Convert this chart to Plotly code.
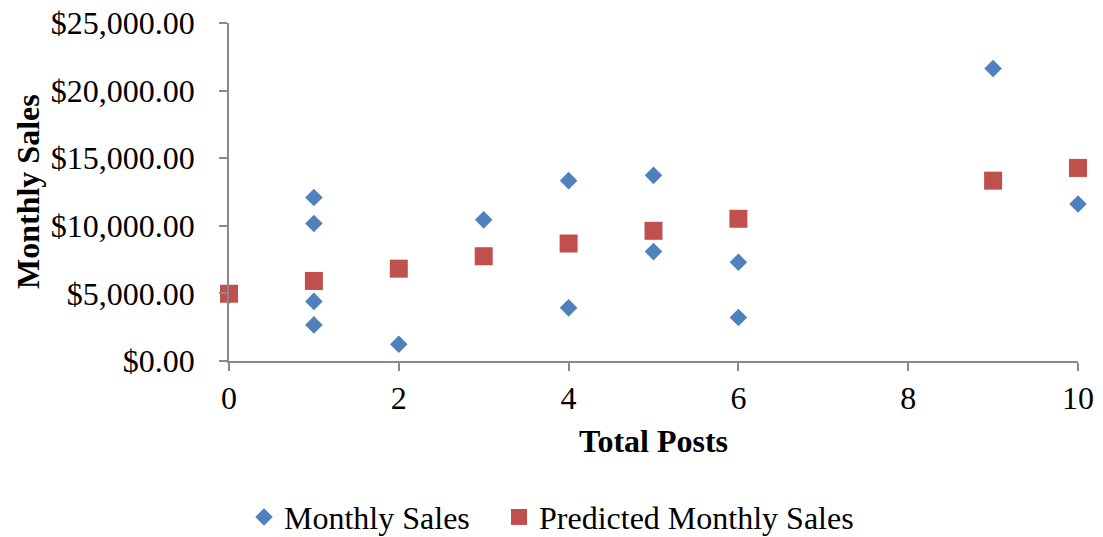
import plotly.graph_objects as go

# Observed monthly sales by number of posts
posts = [0, 1, 1, 1, 1, 2, 3, 4, 4, 5, 5, 6, 6, 9, 10]
monthly_sales = [4880, 12100, 10170, 4410, 2670, 1240, 10440, 13340, 3930,
                 13730, 8090, 7300, 3220, 21630, 11610]

# Regression predictions at each distinct post count
pred_posts = [0, 1, 2, 3, 4, 5, 6, 9, 10]
predicted_sales = [4975, 5920, 6830, 7750, 8690, 9630, 10520, 13340, 14280]

y_ticks = [0, 5000, 10000, 15000, 20000, 25000]
x_ticks = [0, 2, 4, 6, 8, 10]

FONT = "Liberation Serif"
AXIS_GREY = "#898989"
W, H = 1103, 537

fig = go.Figure()
fig.add_trace(go.Scatter(
    x=posts, y=monthly_sales, mode="markers", name="Monthly Sales",
    marker=dict(symbol="diamond", size=13.5, color="#4F81BD"),
    cliponaxis=False, legend="legend",
))
fig.add_trace(go.Scatter(
    x=pred_posts, y=predicted_sales, mode="markers",
    name="Predicted Monthly Sales",
    marker=dict(symbol="square", size=18, color="#C0504D"),
    cliponaxis=False, legend="legend2",
))

legend_common = dict(
    orientation="h", xref="container", yref="container",
    xanchor="left", y=0.037, yanchor="middle",
    font=dict(size=32), itemwidth=30, bgcolor="rgba(0,0,0,0)",
)

fig.update_layout(
    width=W, height=H,
    margin=dict(l=229, r=25, t=23, b=176, autoexpand=False),
    plot_bgcolor="white", paper_bgcolor="white",
    font=dict(family=FONT, size=32, color="black"),
    showlegend=True,
    legend=dict(x=244 / W, **legend_common),
    legend2=dict(x=499 / W, **legend_common),
    xaxis=dict(
        range=[0, 10], tickvals=x_ticks, ticktext=[str(v) for v in x_ticks],
        showgrid=False, zeroline=False, showline=True, automargin=False,
        linecolor=AXIS_GREY, linewidth=1.5,
        ticks="outside", ticklen=8, tickwidth=1.5, tickcolor=AXIS_GREY,
        ticklabelstandoff=0,
    ),
    yaxis=dict(
        range=[0, 25000], tickvals=y_ticks,
        ticktext=[f"${v:,.2f}" for v in y_ticks],
        showgrid=False, zeroline=False, showline=True, automargin=False,
        linecolor=AXIS_GREY, linewidth=1.5,
        ticks="outside", ticklen=8, tickwidth=1.5, tickcolor=AXIS_GREY,
        ticklabelstandoff=18,
    ),
    annotations=[
        dict(text="<b>Total Posts</b>", xref="paper", yref="paper",
             x=0.5, y=0, yshift=-80, xanchor="center", yanchor="middle",
             showarrow=False, font=dict(size=32)),
        dict(text="<b>Monthly Sales</b>", xref="paper", yref="paper",
             x=0, xshift=-201, y=0.5, xanchor="center", yanchor="middle",
             textangle=-90, showarrow=False, font=dict(size=32)),
    ],
)

fig.write_html("out.html")
